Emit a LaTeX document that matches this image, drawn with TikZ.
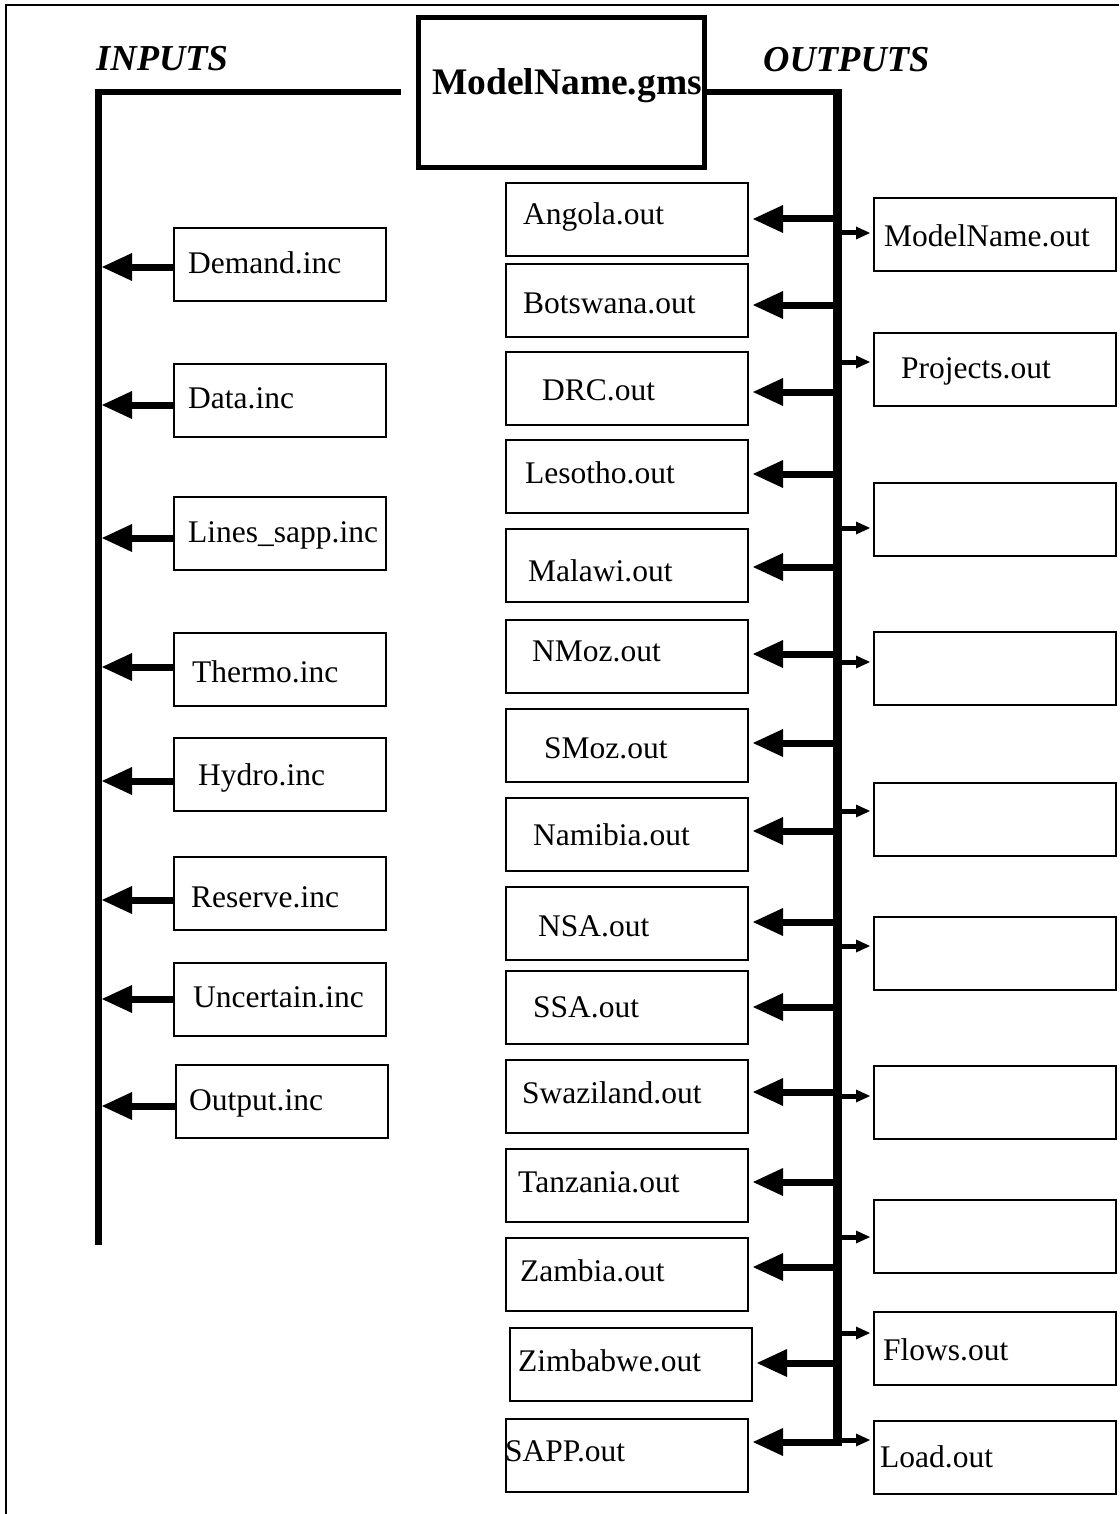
\documentclass[tikz,border=0pt]{standalone}
\usepackage{fontspec}
\setmainfont{Liberation Serif}
\usetikzlibrary{arrows.meta}

\tikzset{
  txt/.style={anchor=base west, inner sep=0pt, font=\fontsize{31.5}{36}\selectfont},
  incbox/.style={draw, line width=2pt, anchor=north west, inner sep=0pt, minimum width=212pt, minimum height=73pt},
  outbox/.style={incbox, minimum width=242pt},
  bigarrow/.style={line width=7pt, -{Triangle[length=30pt,width=28pt,line width=0pt]}},
  smallarrow/.style={line width=5pt, -{Triangle[length=14pt,width=13pt,line width=0pt]}},
}

\begin{document}
\begin{tikzpicture}[x=1pt,y=-1pt]
\useasboundingbox (0,0) rectangle (1119,1514);

% frame
\draw[line width=2pt] (6,1514) -- (6,5) -- (1119,5);

% main file
\node[draw, line width=5pt, anchor=north west, inner sep=0pt, minimum width=286pt, minimum height=150pt] (gms) at (416,15) {};
\node[txt, font=\fontsize{37.5}{42}\selectfont\bfseries] (gms-t) at (432,95) {ModelName.gms};
\node[txt, font=\fontsize{36.5}{42}\selectfont\bfseries\itshape] (in-t) at (96,71) {INPUTS};
\node[txt, font=\fontsize{36.5}{42}\selectfont\bfseries\itshape] (out-t) at (763,72) {OUTPUTS};

% buses
\coordinate (lbtop) at (98.5,89);
\coordinate (lbbot) at (98.5,1245);
\coordinate (rbtop) at (837.5,89);
\coordinate (rbbot) at (837.5,1446);
\draw[line width=6pt] ([xshift=-15pt]gms.west) -- (95,92.5);
\draw[line width=7pt] (lbtop) -- (lbbot);
\draw[line width=6pt] (gms.east) -- (842,92.5);
\draw[line width=9pt] (rbtop) -- (rbbot);

% inputs
\foreach \n/\x/\t/\a/\tx/\ty/\s in {dem/173/227/267/188/273/Demand.inc,
  dat/173/363/405/188/408/Data.inc,
  lin/173/496/538/188/542/Lines\_sapp.inc,
  the/173/632/667/192/682/Thermo.inc,
  hyd/173/737/781/198/785/Hydro.inc,
  res/173/856/900/191/907/Reserve.inc,
  unc/173/962/999/193/1007/Uncertain.inc,
  oin/175/1064/1106/189/1110/Output.inc}
{
  \node[incbox] (\n) at (\x,\t) {};
  \node[txt] (\n-t) at (\tx,\ty) {\s};
  \coordinate (\n-a) at (102,\a);
  \draw[bigarrow] (\n.west |- \n-a) -- (\n-a);
}

% country outputs
\foreach \n/\x/\t/\a/\tx/\ty/\s in {ang/505/182/219/523/225/Angola.out,
  bot/505/263/305/523/313/Botswana.out,
  drc/505/351/392/542/400/DRC.out,
  les/505/439/474/525/483/Lesotho.out,
  mal/505/528/567/528/581/Malawi.out,
  nmo/505/619/654/532/661/NMoz.out,
  smo/505/708/743/544/758/SMoz.out,
  nam/505/797/831/533/845/Namibia.out,
  nsa/505/886/922/538/936/NSA.out,
  ssa/505/970/1007/533/1017/SSA.out,
  swa/505/1059/1092/522/1103/Swaziland.out,
  tan/505/1148/1182/518/1192/Tanzania.out,
  zam/505/1237/1267/520/1281/Zambia.out,
  zim/509/1327/1363/518/1371/Zimbabwe.out,
  sap/505/1418/1442/505/1461/SAPP.out}
{
  \node[outbox] (\n) at (\x,\t) {};
  \node[txt] (\n-t) at (\tx,\ty) {\s};
  \coordinate (\n-a) at (833,\a);
  \draw[bigarrow, shorten >=4pt] (\n-a) -- (\n-a -| \n.east);
}

% result files
\foreach \n/\t/\a in {mno/197/233, pro/332/362, rs3/482/528, rs4/631/662,
  rs5/782/811, rs6/916/946, rs7/1065/1096, rs8/1199/1237, flo/1311/1333, loa/1420/1440}
{
  \node[outbox] (\n) at (873,\t) {};
  \coordinate (\n-a) at (842,\a);
  \draw[smallarrow, shorten >=3pt] (\n-a) -- (\n-a -| \n.west);
}
\node[txt] (mno-t) at (884,247) {ModelName.out};
\node[txt] (pro-t) at (901,378) {Projects.out};
\node[txt] (flo-t) at (883,1360) {Flows.out};
\node[txt] (loa-t) at (880,1467) {Load.out};

\end{tikzpicture}
\end{document}
